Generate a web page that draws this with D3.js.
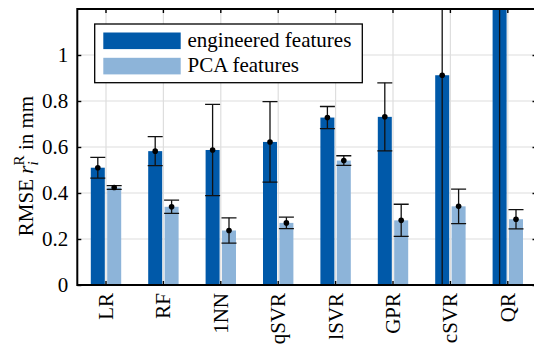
<!DOCTYPE html>
<html>
<head>
<meta charset="utf-8">
<script src="https://cdn.jsdelivr.net/npm/d3@7"></script>
<style>
  html, body { margin: 0; padding: 0; background: #fff; }
  svg { display: block; }
  text { font-family: "Liberation Serif", "Times New Roman", serif; fill: #000; }
</style>
</head>
<body>
<svg id="chart" width="534" height="352"></svg>
<script>
// Regression methods compared
const methods = ["LR", "RF", "1NN", "qSVR", "lSVR", "GPR", "cSVR", "QR"];
// Mean RMSE (mm) and spread for each feature set
const engineeredMean = [0.51, 0.582, 0.587, 0.622, 0.728, 0.731, 0.912, 1.6];
const engineeredErr  = [0.045, 0.063, 0.198, 0.175, 0.048, 0.148, 1.0, 2.0];
const pcaMean = [0.424, 0.34, 0.237, 0.27, 0.541, 0.281, 0.342, 0.286];
const pcaErr  = [0.008, 0.029, 0.055, 0.025, 0.021, 0.07, 0.075, 0.042];
const seriesNames = ["engineered features", "PCA features"];
const yTicks = [0, 0.2, 0.4, 0.6, 0.8, 1];

const colors = ["#0059a9", "#8db4d9"];

const svg = d3.select("#chart");
const plotL = 77.3, plotR = 536.5, plotT = 9, plotB = 285;

const x = d3.scaleBand().domain(methods).range([plotL, plotR]).padding(0);
const y = d3.scaleLinear().domain([0, 1.2]).range([plotB, plotT]);

const barW = 14, offset = 8.2;

// clip region = plot area
svg.append("defs").append("clipPath").attr("id", "plotClip")
  .append("rect").attr("x", plotL).attr("y", plotT)
  .attr("width", plotR - plotL).attr("height", plotB - plotT);

// grid
const grid = svg.append("g").attr("stroke", "#dedede").attr("stroke-width", 1.2);
grid.selectAll("line.h").data(yTicks.filter(d => d > 0)).join("line")
  .attr("x1", plotL).attr("x2", plotR)
  .attr("y1", d => y(d)).attr("y2", d => y(d));
grid.selectAll("line.v").data(methods).join("line")
  .attr("x1", d => x(d) + x.bandwidth() / 2).attr("x2", d => x(d) + x.bandwidth() / 2)
  .attr("y1", plotT).attr("y2", plotB);

const series = [
  { name: seriesNames[0], mean: engineeredMean, err: engineeredErr, dx: -offset, color: colors[0] },
  { name: seriesNames[1], mean: pcaMean, err: pcaErr, dx: offset, color: colors[1] }
];

const plot = svg.append("g").attr("clip-path", "url(#plotClip)");

series.forEach(s => {
  const rows = methods.map((m, i) => ({ m, v: s.mean[i], e: s.err[i] }));
  const cx = d => x(d.m) + x.bandwidth() / 2 + s.dx;
  plot.append("g").selectAll("rect").data(rows).join("rect")
    .attr("x", d => cx(d) - barW / 2)
    .attr("width", barW)
    .attr("y", d => y(d.v))
    .attr("height", d => y(0) - y(d.v))
    .attr("fill", s.color);
  const eb = plot.append("g").attr("stroke", "#111").attr("stroke-width", 1.3);
  eb.selectAll("line.stem").data(rows).join("line")
    .attr("x1", cx).attr("x2", cx)
    .attr("y1", d => y(d.v + d.e)).attr("y2", d => y(d.v - d.e));
  eb.selectAll("line.capT").data(rows).join("line")
    .attr("x1", d => cx(d) - 7.5).attr("x2", d => cx(d) + 7.5)
    .attr("y1", d => y(d.v + d.e)).attr("y2", d => y(d.v + d.e));
  eb.selectAll("line.capB").data(rows).join("line")
    .attr("x1", d => cx(d) - 7.5).attr("x2", d => cx(d) + 7.5)
    .attr("y1", d => y(d.v - d.e)).attr("y2", d => y(d.v - d.e));
  plot.append("g").selectAll("circle").data(rows).join("circle")
    .attr("cx", cx).attr("cy", d => y(d.v)).attr("r", 2.8).attr("fill", "#000");
});

// axes
const fmt = d => d === 0 ? "0" : (d === 1 ? "1" : d3.format(".1f")(d));
const yAxis = svg.append("g").attr("transform", `translate(${plotL},0)`)
  .call(d3.axisLeft(y).tickValues(yTicks).tickFormat(fmt).tickSize(-4).tickPadding(9));
const yAxisR = svg.append("g").attr("transform", `translate(${plotR},0)`)
  .call(d3.axisRight(y).tickValues(yTicks).tickFormat("").tickSize(-4));
const xAxis = svg.append("g").attr("transform", `translate(0,${plotB})`)
  .call(d3.axisBottom(x).tickSize(-4).tickPadding(8));
const xAxisT = svg.append("g").attr("transform", `translate(0,${plotT})`)
  .call(d3.axisTop(x).tickFormat("").tickSize(-4));

[yAxis, yAxisR, xAxis, xAxisT].forEach(g => {
  g.select(".domain").remove();
  g.selectAll(".tick line").attr("stroke", "#000").attr("stroke-width", 1.4);
  g.selectAll("text").style("font-family", "'Liberation Serif', serif").style("font-size", "21px");
});
xAxis.selectAll(".tick text")
  .attr("transform", "rotate(-90)")
  .attr("text-anchor", "end")
  .attr("x", -8).attr("y", 0).attr("dy", "0.33em");

// frame
svg.append("rect").attr("x", plotL).attr("y", plotT)
  .attr("width", plotR - plotL).attr("height", plotB - plotT)
  .attr("fill", "none").attr("stroke", "#000").attr("stroke-width", 2);

// y label
const yl = svg.append("text")
  .attr("transform", "translate(33,166) rotate(-90)")
  .attr("text-anchor", "middle")
  .style("font-size", "21px");
yl.append("tspan").text("RMSE ");
yl.append("tspan").style("font-style", "italic").text("r");
yl.append("tspan").style("font-style", "italic").style("font-size", "15px").attr("dy", 5).text("i");
yl.append("tspan").style("font-size", "15px").attr("dx", -4).attr("dy", -14).text("R");
yl.append("tspan").attr("dy", 9).text(" in mm");

// legend
const lg = svg.append("g");
lg.append("rect").attr("x", 94.7).attr("y", 24).attr("width", 267.6).attr("height", 58.7)
  .attr("fill", "#fff").attr("stroke", "#000").attr("stroke-width", 1.3);
series.forEach((s, i) => {
  lg.append("rect").attr("x", 103.3).attr("y", 32.5 + i * 25.3)
    .attr("width", 77.4).attr("height", 16.6).attr("fill", s.color);
  lg.append("text").attr("x", 187.5).attr("y", 47 + i * 25.3)
    .style("font-size", "21px").text(s.name);
});
</script>
</body>
</html>
